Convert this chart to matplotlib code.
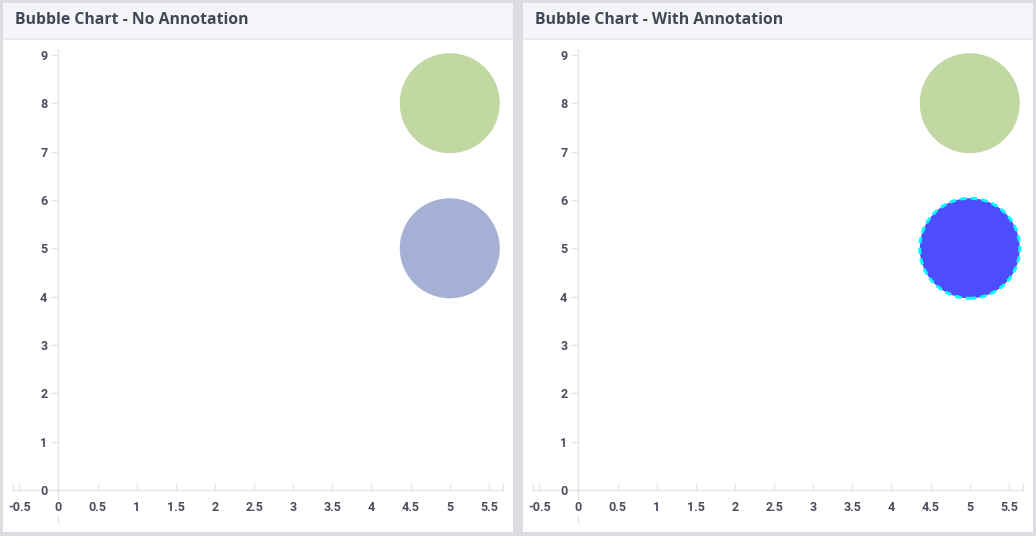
import matplotlib.pyplot as plt
from matplotlib.patches import Rectangle

# bubble data
bubble_x = [5, 5]
bubble_y = [8, 5]
bubble_size = [50, 50]   # radius in px
colors_plain = ['#c1d8a3', '#a6b0d5']
colors_annot = ['#c1d8a3', '#4d4dff']

x_ticks = [-0.5, 0, 0.5, 1, 1.5, 2, 2.5, 3, 3.5, 4, 4.5, 5, 5.5]
x_labels = ['-0.5', '0', '0.5', '1', '1.5', '2', '2.5', '3', '3.5', '4', '4.5', '5', '5.5']
y_ticks = [0, 1, 2, 3, 4, 5, 6, 7, 8, 9]

titles = ['Bubble Chart - No Annotation', 'Bubble Chart - With Annotation']

W, H = 1036, 536
fig = plt.figure(figsize=(W / 100, H / 100), dpi=100)
fig.patch.set_facecolor('#dcdde3')

text_col = '#4a4e5a'
line_col = '#e4e5ea'


def px(x0, y0, w, h):
    return [x0 / W, 1 - (y0 + h) / H, w / W, h / H]


for i in range(2):
    off = i * 520
    # panel + header
    fig.patches.append(Rectangle((3 + off, H - 532), 510, 529, transform=None,
                                 facecolor='white', edgecolor='none', zorder=-3))
    fig.patches.append(Rectangle((3 + off, H - 38), 510, 35, transform=None,
                                 facecolor='#f4f5f9', edgecolor='none', zorder=-2))
    fig.patches.append(Rectangle((3 + off, H - 40), 510, 2, transform=None,
                                 facecolor='#e9eaef', edgecolor='none', zorder=-2))
    fig.text((15 + off) / W, 1 - 20 / H, titles[i], fontsize=11.3, fontweight='bold',
             family=['Open Sans', 'DejaVu Sans'], color='#434755', va='center', ha='left')

    ax = fig.add_axes(px(13 + off, 50, 490, 472))
    ax.set_facecolor('none')
    ax.set_xlim(-0.58, 5.68)
    ax.set_ylim(-0.66, 9.1)

    for s in ['top', 'right']:
        ax.spines[s].set_visible(False)
    ax.spines['left'].set_position(('data', 0))
    ax.spines['bottom'].set_position(('data', 0))
    for s in ['left', 'bottom']:
        ax.spines[s].set_color(line_col)
        ax.spines[s].set_linewidth(1)
        ax.spines[s].set_zorder(1)

    ax.set_xticks(x_ticks)
    ax.set_xticklabels(x_labels)
    ax.set_xticks([-0.58, 5.68], minor=True)
    ax.set_yticks(y_ticks)
    ax.tick_params(axis='x', which='both', direction='in', length=5, width=1, color=line_col,
                   labelcolor=text_col, labelsize=9, pad=8)
    ax.tick_params(axis='y', direction='out', length=5, width=1, color=line_col,
                   labelcolor=text_col, labelsize=9, pad=3)
    for lab in ax.get_xticklabels() + ax.get_yticklabels():
        lab.set_fontfamily('Roboto')
        lab.set_fontweight('bold')
        lab.set_bbox(dict(facecolor='white', edgecolor='none', pad=0.6))

    sizes = [(2 * r * 72 / 100) ** 2 for r in bubble_size]
    if i == 0:
        ax.scatter(bubble_x, bubble_y, s=sizes, c=colors_plain, edgecolors='none', zorder=3)
    else:
        ax.scatter(bubble_x[:1], bubble_y[:1], s=sizes[:1], c=colors_annot[:1],
                   edgecolors='none', zorder=3)
        ax.scatter(bubble_x[1:], bubble_y[1:], s=sizes[1:], c=colors_annot[1:],
                   edgecolors='#00ffff', linewidths=2.2, linestyles=(0, (2, 1.5)), zorder=3)

fig.savefig('out.png', dpi=100)
